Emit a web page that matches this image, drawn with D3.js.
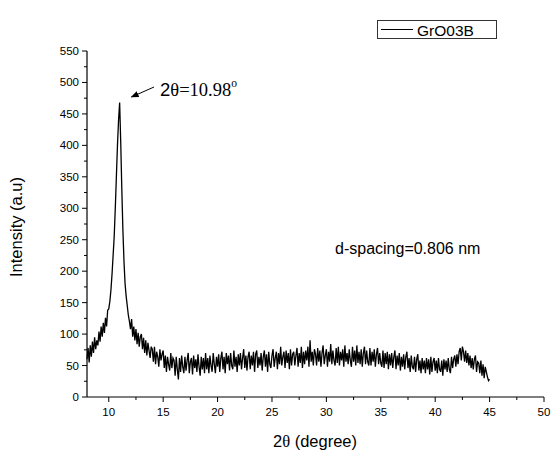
<!DOCTYPE html>
<html>
<head>
<meta charset="utf-8">
<script src="https://cdn.jsdelivr.net/npm/d3@7"></script>
<style>
  html, body { margin: 0; padding: 0; background: #fff; }
  svg { display: block; }
  text { font-family: "Liberation Sans", Arial, sans-serif; fill: #000; }
</style>
</head>
<body>
<svg id="chart" width="554" height="452"></svg>
<script>
// XRD pattern of GrO03B, sampled every 0.1 degree from 8.0 to 45.0 (2θ)
const scanStart = 8.0;
const scanStep = 0.1;
const intensity = [
  60,78,55,82,64,88,70,95,76,90,
  82,104,88,112,96,118,102,126,112,138,
  140,152,170,195,225,255,300,350,400,440,
  468,405,330,265,215,180,160,145,130,120,
  108,124,96,112,90,108,84,102,80,96,
  100,76,94,70,90,66,86,74,62,80,
  76,56,80,52,72,64,48,76,58,68,
  74,46,66,40,64,52,42,70,46,62,
  58,34,64,44,28,62,40,66,48,38,
  64,42,58,70,38,56,62,36,66,46,
  60,40,68,48,34,64,44,62,38,70,
  44,62,38,66,50,40,70,52,38,64,
  48,68,40,62,72,44,64,38,70,52,
  66,42,70,50,44,74,48,64,40,68,
  50,70,44,62,76,46,66,42,64,72,
  44,66,50,72,40,68,74,46,64,50,
  70,42,64,74,48,68,40,72,52,46,
  66,76,48,62,72,44,70,52,80,50,
  64,72,46,74,54,70,44,76,50,68,
  72,50,66,78,48,70,54,80,46,72,
  52,74,58,80,48,90,56,72,50,76,
  68,50,78,56,74,48,70,82,52,66,
  76,48,72,56,84,52,74,58,50,78,
  54,80,50,72,58,76,48,82,56,70,
  52,76,58,48,80,56,74,50,82,54,
  72,52,76,48,70,80,52,74,56,50,
  78,50,72,56,76,48,68,78,52,70,
  54,48,74,46,70,52,72,44,68,50,
  70,46,64,74,44,66,50,70,42,64,
  48,68,44,64,72,46,62,40,66,48,
  44,64,40,60,68,42,58,38,62,44,
  58,38,62,44,60,36,64,40,56,62,
  42,58,38,62,44,40,58,34,60,44,
  58,40,62,44,38,64,46,60,66,48,
  68,52,72,78,58,80,72,56,74,54,
  70,50,66,46,62,44,60,66,40,56,
  54,38,58,34,52,30,48,40,32,26,
  28
];
const xTicks = [10, 15, 20, 25, 30, 35, 40, 45, 50];
const yTicks = [0, 50, 100, 150, 200, 250, 300, 350, 400, 450, 500, 550];
const seriesName = "GrO03B";
const peakPosition = 10.98;
const peakLabelValue = "10.98";
const dSpacingText = "d-spacing=0.806 nm";

const svg = d3.select("#chart");
const x = d3.scaleLinear().domain([8, 50]).range([87, 544]);
const y = d3.scaleLinear().domain([0, 550]).range([397, 51]);

const points = intensity.map((v, i) => [scanStart + i * scanStep, v]);

// Minor ticks (between majors)
const xMinor = d3.range(12.5, 50, 5);
const yMinor = d3.range(25, 550, 50);

// X axis
const xAxis = svg.append("g").attr("transform", `translate(0,${y(0)})`);
xAxis.append("line").attr("x1", x(8)).attr("x2", x(50)).attr("stroke", "#000").attr("stroke-width", 1.2);
xAxis.selectAll("line.maj").data(xTicks).enter().append("line")
  .attr("x1", d => x(d)).attr("x2", d => x(d)).attr("y1", 0).attr("y2", 5)
  .attr("stroke", "#000").attr("stroke-width", 1);
xAxis.selectAll("line.min").data(xMinor).enter().append("line")
  .attr("x1", d => x(d)).attr("x2", d => x(d)).attr("y1", 0).attr("y2", 3)
  .attr("stroke", "#000").attr("stroke-width", 1);
xAxis.selectAll("text").data(xTicks).enter().append("text")
  .attr("x", d => x(d)).attr("y", 19).attr("text-anchor", "middle")
  .attr("font-size", 11.5).text(d => d);

// Y axis
const yAxis = svg.append("g").attr("transform", `translate(${x(8)},0)`);
yAxis.append("line").attr("y1", y(0)).attr("y2", y(550)).attr("stroke", "#000").attr("stroke-width", 1.2);
yAxis.selectAll("line.maj").data(yTicks).enter().append("line")
  .attr("y1", d => y(d)).attr("y2", d => y(d)).attr("x1", 0).attr("x2", -5)
  .attr("stroke", "#000").attr("stroke-width", 1);
yAxis.selectAll("line.min").data(yMinor).enter().append("line")
  .attr("y1", d => y(d)).attr("y2", d => y(d)).attr("x1", 0).attr("x2", -3)
  .attr("stroke", "#000").attr("stroke-width", 1);
yAxis.selectAll("text").data(yTicks).enter().append("text")
  .attr("x", -8).attr("y", d => y(d)).attr("dy", "0.35em").attr("text-anchor", "end")
  .attr("font-size", 11.5).text(d => d);

// Axis titles
const xTitle = svg.append("text").attr("x", 315).attr("y", 447).attr("text-anchor", "middle").attr("font-size", 16.5);
xTitle.append("tspan").text("2");
xTitle.append("tspan").attr("font-family", "'Liberation Serif', 'Times New Roman', serif").text("θ");
xTitle.append("tspan").text(" (degree)");

svg.append("text")
  .attr("transform", `translate(22,${(y(0) + y(550)) / 2 + 3}) rotate(-90)`)
  .attr("text-anchor", "middle").attr("font-size", 16.5)
  .text("Intensity (a.u)");

// Diffraction trace
svg.append("path").datum(points)
  .attr("fill", "none").attr("stroke", "#000").attr("stroke-width", 1.3)
  .attr("stroke-linejoin", "miter")
  .attr("d", d3.line().x(d => x(d[0])).y(d => y(d[1])));

// Peak annotation with arrow
svg.append("defs").append("marker")
  .attr("id", "arrowHead").attr("viewBox", "0 0 10 10").attr("refX", 9).attr("refY", 5)
  .attr("markerWidth", 8).attr("markerHeight", 8).attr("orient", "auto")
  .append("path").attr("d", "M0,1 L10,5 L0,9 Z").attr("fill", "#000");
svg.append("line")
  .attr("x1", 154).attr("y1", 87).attr("x2", x(peakPosition) + 12).attr("y2", 97)
  .attr("stroke", "#000").attr("stroke-width", 1).attr("marker-end", "url(#arrowHead)");
const peakLabel = svg.append("text").attr("x", 160).attr("y", 96).attr("font-size", 18.5);
peakLabel.append("tspan").attr("font-family", "'Liberation Sans', Arial, sans-serif").text("2");
peakLabel.append("tspan").attr("font-family", "'Liberation Serif', 'Times New Roman', serif").text("θ=" + peakLabelValue);
peakLabel.append("tspan").attr("font-family", "'Liberation Serif', 'Times New Roman', serif")
  .attr("font-size", 11.5).attr("dy", -9).text("o");

// d-spacing note
svg.append("text").attr("x", 335).attr("y", 254).attr("font-size", 16).text(dSpacingText);

// Legend
const legend = svg.append("g");
legend.append("rect").attr("x", 377.5).attr("y", 20.5).attr("width", 119).attr("height", 18)
  .attr("fill", "#fff").attr("stroke", "#333").attr("stroke-width", 1);
legend.append("line").attr("x1", 381).attr("x2", 413).attr("y1", 29.5).attr("y2", 29.5)
  .attr("stroke", "#000").attr("stroke-width", 1);
legend.append("text").attr("x", 417).attr("y", 35.5).attr("font-size", 15.5).text(seriesName);
</script>
</body>
</html>
